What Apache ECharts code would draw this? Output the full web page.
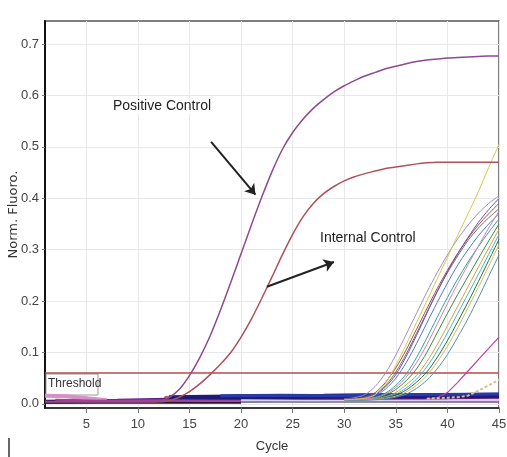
<!DOCTYPE html>
<html>
<head>
<meta charset="utf-8">
<script src="https://cdn.jsdelivr.net/npm/echarts@6/dist/echarts.min.js"></script>
<style>
  html, body { margin: 0; padding: 0; background: #fff; }
  #chart { width: 507px; height: 457px; }
</style>
</head>
<body>
<div id="chart"></div>
<script>
const xTicks = [5, 10, 15, 20, 25, 30, 35, 40, 45]
const yTicks = [0, 0.1, 0.2, 0.3, 0.4, 0.5, 0.6, 0.7]
const threshold = 0.06

const positiveControl = [
  0.004, 0.004, 0.004, 0.004, 0.004, 0.004, 0.004, 0.004, 0.004, 0.004,
  0.004, 0.005, 0.012, 0.028, 0.055, 0.090, 0.132, 0.182, 0.236, 0.292,
  0.348, 0.402, 0.452, 0.495, 0.528, 0.554, 0.575, 0.592, 0.607, 0.619,
  0.629, 0.638, 0.645, 0.652, 0.657, 0.662, 0.666, 0.669, 0.671, 0.673,
  0.674, 0.675, 0.676, 0.677, 0.677
]
const internalControl = [
  0.004, 0.004, 0.004, 0.004, 0.004, 0.004, 0.004, 0.004, 0.004, 0.004,
  0.004, 0.004, 0.006, 0.013, 0.024, 0.039, 0.057, 0.077, 0.100, 0.130,
  0.165, 0.205, 0.247, 0.290, 0.330, 0.364, 0.390, 0.409, 0.423, 0.434,
  0.442, 0.448, 0.453, 0.458, 0.461, 0.464, 0.467, 0.469, 0.470, 0.470,
  0.470, 0.470, 0.470, 0.470, 0.470
]

// samples, values for cycles 30..45
const sampleStart = 30
const sampleColors = [
  '#a08cc8', '#a0504a', '#707070', '#4a78c8', '#30a0a0', '#3a8a3a', '#d8a040',
  '#40b8d0', '#2a6a3a', '#c8c060', '#5a8ab8', '#7050a0', '#d080b0', '#d4c84a'
]
const samples = [
  [0.010, 0.012, 0.018, 0.034, 0.060, 0.095, 0.135, 0.176, 0.217, 0.255, 0.290, 0.321, 0.348, 0.371, 0.390, 0.405],
  [0.009, 0.010, 0.013, 0.022, 0.042, 0.070, 0.105, 0.145, 0.185, 0.224, 0.260, 0.293, 0.322, 0.348, 0.370, 0.390],
  [0.009, 0.010, 0.012, 0.019, 0.036, 0.062, 0.097, 0.137, 0.178, 0.218, 0.255, 0.288, 0.318, 0.342, 0.362, 0.380],
  [0.008, 0.009, 0.011, 0.016, 0.029, 0.050, 0.080, 0.117, 0.157, 0.197, 0.235, 0.270, 0.300, 0.327, 0.350, 0.370],
  [0.008, 0.009, 0.010, 0.013, 0.021, 0.036, 0.058, 0.090, 0.128, 0.168, 0.207, 0.243, 0.276, 0.306, 0.334, 0.360],
  [0.008, 0.008, 0.009, 0.011, 0.017, 0.028, 0.045, 0.068, 0.100, 0.138, 0.176, 0.213, 0.248, 0.283, 0.317, 0.350],
  [0.007, 0.008, 0.009, 0.010, 0.014, 0.022, 0.037, 0.055, 0.082, 0.115, 0.152, 0.190, 0.228, 0.266, 0.303, 0.340],
  [0.007, 0.008, 0.008, 0.010, 0.013, 0.019, 0.031, 0.048, 0.072, 0.103, 0.138, 0.176, 0.214, 0.252, 0.291, 0.330],
  [0.007, 0.007, 0.008, 0.009, 0.012, 0.017, 0.027, 0.042, 0.062, 0.090, 0.123, 0.160, 0.198, 0.238, 0.279, 0.320],
  [0.007, 0.007, 0.008, 0.009, 0.011, 0.015, 0.023, 0.036, 0.055, 0.081, 0.112, 0.148, 0.187, 0.227, 0.268, 0.310],
  [0.007, 0.007, 0.007, 0.008, 0.010, 0.013, 0.019, 0.030, 0.046, 0.068, 0.096, 0.130, 0.166, 0.206, 0.248, 0.290],
  [0.009, 0.010, 0.012, 0.018, 0.033, 0.057, 0.092, 0.133, 0.176, 0.218, 0.257, 0.292, 0.324, 0.353, 0.378, 0.400],
  [0.008, 0.009, 0.010, 0.012, 0.019, 0.032, 0.052, 0.080, 0.115, 0.155, 0.195, 0.234, 0.271, 0.307, 0.342, 0.375],
  [0.008, 0.009, 0.011, 0.018, 0.040, 0.075, 0.115, 0.158, 0.200, 0.243, 0.285, 0.328, 0.370, 0.413, 0.460, 0.505]
]
// late riser and weak ones, values for cycles 38..45
const lateStart = 38
const lateMagenta = [0.010, 0.012, 0.022, 0.042, 0.064, 0.086, 0.108, 0.130]
const lateTan = [0.010, 0.011, 0.012, 0.013, 0.016, 0.026, 0.036, 0.047]

// flat traces at the bottom, [cycle, value]
const baseTraces = [
  { color: '#5a1a80', width: 4, pts: [[1, 0.004], [8, 0.006], [13, 0.008], [20, 0.009], [30, 0.010], [40, 0.012], [45, 0.013]] },
  { color: '#1c1c78', width: 5, pts: [[13, 0.012], [17, 0.013], [21, 0.014], [28, 0.015], [32, 0.016], [38, 0.016], [45, 0.017]] },
  { color: '#2a3aa8', width: 3, pts: [[18, 0.016], [24, 0.017], [30, 0.016], [36, 0.018], [45, 0.019]] },
  { color: '#d890c8', width: 4, pts: [[1, 0.016], [3, 0.015], [5, 0.011], [7, 0.007]] },
  { color: '#1a1a30', width: 2, pts: [[1, 0.002], [10, 0.002], [20, 0.002]] },
  { color: '#a0409a', width: 2, pts: [[2, 0.008], [6, 0.006], [12, 0.007], [25, 0.005], [45, 0.004]] },
  { color: '#d8d0f0', width: 2, pts: [[20, 0.007], [26, 0.006], [32, 0.006], [40, 0.007], [45, 0.008]] },
  { color: '#808090', width: 1.5, pts: [[20, 0.003], [45, 0.004]] }
]
const redSpots = [[5, 0.008], [12.8, 0.010]]

const pair = (start, arr) => arr.map((v, i) => [start + i, v])
const font = "'Liberation Sans', Arial, sans-serif"

const chart = echarts.init(document.getElementById('chart'))

const series = []
baseTraces.forEach(b => {
  series.push({
    type: 'line', data: b.pts, symbol: 'none', silent: true, clip: false,
    lineStyle: { color: b.color, width: b.width }
  })
})
series.push({
  type: 'scatter', data: redSpots, symbolSize: 6, silent: true,
  itemStyle: { color: '#c03040' }
})
series.push({
  type: 'line', data: [[1, threshold], [45, threshold]], symbol: 'none', silent: true,
  lineStyle: { color: '#b84a4a', width: 1.5 }, z: 3
})
samples.forEach((s, i) => {
  series.push({
    type: 'line', data: pair(sampleStart, s), symbol: 'none', smooth: 0.3, silent: true,
    lineStyle: { color: sampleColors[i], width: 1 }
  })
})
series.push({
  type: 'line', data: pair(lateStart, lateMagenta), symbol: 'none', silent: true,
  lineStyle: { color: '#c040a0', width: 1.2 }
})
series.push({
  type: 'line', data: pair(lateStart, lateTan), symbol: 'none', silent: true,
  lineStyle: { color: '#d8c090', width: 2, type: [3, 2] }
})
series.push({
  name: 'Internal Control', type: 'line', data: pair(1, internalControl),
  symbol: 'none', smooth: 0.3, lineStyle: { color: '#b0505a', width: 1.5 }
})
series.push({
  name: 'Positive Control', type: 'line', data: pair(1, positiveControl),
  symbol: 'none', smooth: 0.3, lineStyle: { color: '#8e4a8e', width: 1.5 },
  markLine: {
    silent: true, symbol: ['none', 'arrow'], symbolSize: 10, label: { show: false },
    lineStyle: { color: '#222', width: 2, type: 'solid' },
    data: [
      [{ coord: [17.1, 0.51] }, { coord: [21.4, 0.407] }],
      [{ coord: [22.5, 0.228] }, { coord: [29.0, 0.276] }]
    ]
  }
})

chart.setOption({
  animation: false,
  backgroundColor: '#fff',
  grid: {
    left: 45, right: 8, top: 21, bottom: 49, show: true,
    outerBoundsMode: 'none', containLabel: false,
    borderColor: '#555', borderWidth: 1.5
  },
  xAxis: {
    type: 'value', min: 1, max: 45,
    name: 'Cycle', nameLocation: 'middle', nameGap: 32, nameMoveOverlap: false,
    nameTextStyle: { color: '#333', fontSize: 13, fontFamily: font },
    axisLine: { show: true, onZero: false, lineStyle: { color: '#222', width: 1.5 } },
    axisTick: { show: true, length: 5, customValues: xTicks, lineStyle: { color: '#777' } },
    axisLabel: { customValues: xTicks, color: '#444', fontSize: 13, margin: 10, fontFamily: font },
    splitLine: { show: true, lineStyle: { color: '#e8e8e8', width: 1 } }
  },
  yAxis: {
    type: 'value', min: -0.008, max: 0.745,
    name: 'Norm. Fluoro.', nameLocation: 'middle', nameGap: 25, nameMoveOverlap: false,
    nameTextStyle: { color: '#333', fontSize: 13, fontFamily: 'DejaVu Sans, sans-serif' },
    axisLine: { show: true, lineStyle: { color: '#111', width: 2 } },
    axisTick: { show: true, length: 3, customValues: yTicks, lineStyle: { color: '#777' } },
    axisLabel: {
      customValues: yTicks, color: '#444', fontSize: 13, margin: 6, fontFamily: font,
      formatter: v => v.toFixed(1)
    },
    splitLine: { show: true, lineStyle: { color: '#e8e8e8', width: 1 } }
  },
  graphic: [
    {
      type: 'rect', z: 1, shape: { x: 46, y: 374, width: 52, height: 21 },
      style: { fill: '#fff', stroke: '#999', lineWidth: 1 }
    },
    {
      type: 'text', z: 1, left: 48, top: 378,
      style: { text: 'Threshold', fill: '#333', font: '12px ' + font }
    },
    {
      type: 'text', z: 1, left: 99, top: 98,
      style: {
        text: 'Positive Control', fill: '#222', font: '14px ' + font,
        backgroundColor: '#fff', padding: [1, 14]
      }
    },
    {
      type: 'text', z: 1, left: 320, top: 231,
      style: { text: 'Internal Control', fill: '#222', font: '14px ' + font }
    },
    {
      type: 'line', shape: { x1: 9, y1: 438, x2: 9, y2: 457 },
      style: { stroke: '#333', lineWidth: 1.5 }
    }
  ],
  series: series
})
</script>
</body>
</html>
